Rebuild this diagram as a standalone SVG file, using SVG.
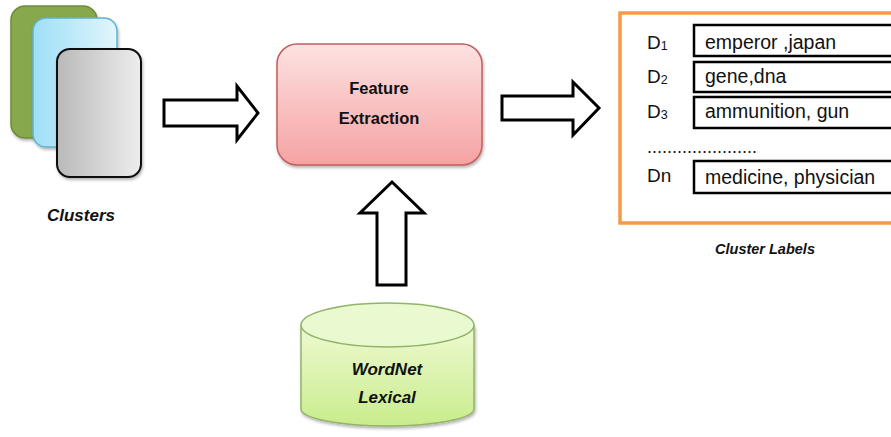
<svg xmlns="http://www.w3.org/2000/svg" width="891" height="437" viewBox="0 0 891 437">
  <style>
    .lbl { font-family: "Liberation Sans", Arial, sans-serif; fill: #111; }
    .bi { font-weight: bold; font-style: italic; }
    .b { font-weight: bold; }
    .arrow { fill: #fff; stroke: #000; stroke-width: 3; stroke-linejoin: miter; }
    .row { fill: #fff; stroke: #000; stroke-width: 2.5; }
  </style>
  <defs>
    <linearGradient id="grayGrad" x1="0" y1="0" x2="1" y2="0">
      <stop offset="0" stop-color="#b9b9b9"/>
      <stop offset="1" stop-color="#ededed"/>
    </linearGradient>
    <linearGradient id="blueGrad" x1="0" y1="0" x2="1" y2="0">
      <stop offset="0" stop-color="#9edff7"/>
      <stop offset="1" stop-color="#e2f5fc"/>
    </linearGradient>
    <linearGradient id="pinkGrad" x1="0" y1="0" x2="0" y2="1">
      <stop offset="0" stop-color="#fde2e2"/>
      <stop offset="1" stop-color="#f6a2a2"/>
    </linearGradient>
    <linearGradient id="limeGrad" x1="0" y1="0" x2="0" y2="1">
      <stop offset="0" stop-color="#eefad2"/>
      <stop offset="1" stop-color="#c9ec8c"/>
    </linearGradient>
    <filter id="shadow" x="-20%" y="-20%" width="140%" height="140%">
      <feDropShadow dx="1" dy="2" stdDeviation="1.5" flood-color="#000" flood-opacity="0.3"/>
    </filter>
  </defs>

  <!-- stacked cluster cards -->
  <g id="clusters">
    <rect x="11" y="6" width="86" height="132" rx="14" fill="#87a94c" stroke="#6d8c38" stroke-width="1.5" filter="url(#shadow)"/>
    <rect x="33" y="18" width="84" height="129" rx="13" fill="url(#blueGrad)" stroke="#5fb3d3" stroke-width="1.5" filter="url(#shadow)"/>
    <rect x="57" y="49" width="84" height="128" rx="13" fill="url(#grayGrad)" stroke="#111" stroke-width="2" filter="url(#shadow)"/>
    <text class="lbl bi" x="81" y="221" font-size="17" text-anchor="middle">Clusters</text>
  </g>

  <!-- feature extraction process -->
  <g id="feature-extraction">
    <rect x="277" y="44" width="205" height="121" rx="20" fill="url(#pinkGrad)" stroke="#c0605e" stroke-width="1.5" filter="url(#shadow)"/>
    <text class="lbl b" x="379" y="94" font-size="16.5" text-anchor="middle">Feature</text>
    <text class="lbl b" x="379" y="124" font-size="16.5" text-anchor="middle">Extraction</text>
  </g>

  <!-- WordNet database -->
  <g id="wordnet">
    <path d="M301,325 L301,409 A86.5,17 0 0 0 474,409 L474,325" fill="url(#limeGrad)" stroke="#93b46a" stroke-width="1.5" filter="url(#shadow)"/>
    <ellipse cx="387.5" cy="325" rx="86.5" ry="22" fill="#eafad0" stroke="#93b46a" stroke-width="1.5"/>
    <text class="lbl bi" x="387" y="375" font-size="17" text-anchor="middle">WordNet</text>
    <text class="lbl bi" x="387" y="403" font-size="17" text-anchor="middle">Lexical</text>
  </g>

  <!-- cluster label table -->
  <g id="cluster-labels">
    <rect x="620" y="13" width="290" height="210" fill="#fff" stroke="#f49a4a" stroke-width="3.5"/>
    <rect class="row" x="694" y="25" width="220" height="31"/>
    <rect class="row" x="694" y="62" width="220" height="30"/>
    <rect class="row" x="694" y="97" width="220" height="31"/>
    <rect class="row" x="694" y="161" width="220" height="32"/>
    <text class="lbl" x="647" y="49" font-size="19">D<tspan font-size="12.5" dy="1">1</tspan></text>
    <text class="lbl" x="647" y="83" font-size="19">D<tspan font-size="12.5" dy="1">2</tspan></text>
    <text class="lbl" x="647" y="118" font-size="19">D<tspan font-size="12.5" dy="1">3</tspan></text>
    <text class="lbl" x="647" y="182" font-size="19">Dn</text>
    <text class="lbl" x="705" y="49" font-size="19.5">emperor ,japan</text>
    <text class="lbl" x="705" y="83" font-size="19.5">gene,dna</text>
    <text class="lbl" x="705" y="118" font-size="19.5">ammunition, gun</text>
    <text class="lbl" x="705" y="184" font-size="19.5">medicine, physician</text>
    <text class="lbl" x="647" y="153" font-size="18">......................</text>
    <text class="lbl bi" x="765" y="254" font-size="14.5" text-anchor="middle">Cluster Labels</text>
  </g>

  <!-- block arrows between stages -->
  <g id="connectors">
    <polygon class="arrow" points="164,100 237,100 237,86 258,113 237,140 237,126 164,126"/>
    <polygon class="arrow" points="502,96 573,96 573,82 599,108 573,135 573,120 502,120"/>
    <polygon class="arrow" points="377,285 377,213 360,213 392,182 424,213 406,213 406,285"/>
  </g>
</svg>
